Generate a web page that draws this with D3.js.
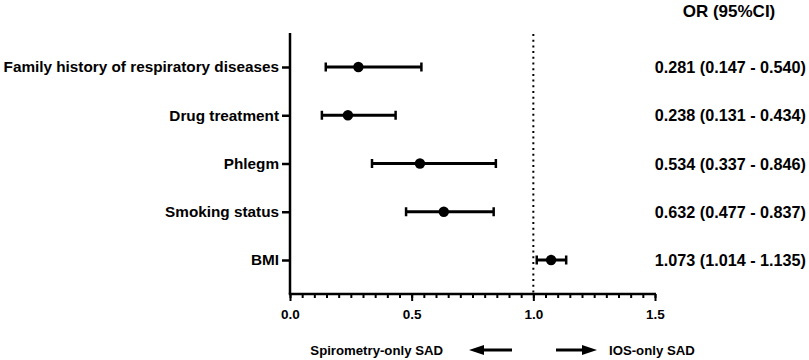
<!DOCTYPE html>
<html>
<head>
<meta charset="utf-8">
<script src="https://cdn.jsdelivr.net/npm/d3@7"></script>
<style>
  body { margin: 0; background: #fff; }
  text { font-family: "Liberation Sans", Arial, sans-serif; font-weight: bold; fill: #000; }
</style>
</head>
<body>
<svg id="chart" width="809" height="360"></svg>
<script>
// data
const factors = ['Family history of respiratory diseases', 'Drug treatment', 'Phlegm', 'Smoking status', 'BMI']
const orValues = [0.281, 0.238, 0.534, 0.632, 1.073]
const ciLow = [0.147, 0.131, 0.337, 0.477, 1.014]
const ciHigh = [0.540, 0.434, 0.846, 0.837, 1.135]
const xTicks = [0, 0.5, 1.0, 1.5]

const width = 809
const height = 360
const margin = { top: 33, bottom: 66, left: 290, right: 154 }
const innerWidth = width - margin.left - margin.right
const innerHeight = height - margin.top - margin.bottom

const svg = d3.select('#chart')

const g = svg.append('g')
  .attr('transform', `translate(${margin.left},${margin.top})`)

const xScale = d3.scaleLinear()
  .domain([0, 1.5])
  .range([0, innerWidth])

const yScale = d3.scalePoint()
  .domain(factors)
  .range([34, 227])

// reference line at OR = 1
g.append('line')
  .attr('x1', xScale(1)).attr('x2', xScale(1))
  .attr('y1', 1).attr('y2', innerHeight)
  .attr('stroke', '#000')
  .attr('stroke-width', 2)
  .attr('stroke-dasharray', '2,3.7')

// x axis: minor ticks then major ticks
const xAxisMinor = d3.axisBottom(xScale)
  .tickValues(d3.range(0, 1.5001, 0.05))
  .tickSize(4)
  .tickFormat('')
const xAxisG = g.append('g')
  .attr('transform', `translate(0,${innerHeight})`)
  .call(xAxisMinor)
const xAxisMajor = d3.axisBottom(xScale)
  .tickValues(xTicks)
  .tickSize(7)
  .tickPadding(8)
  .tickFormat(d3.format('.1f'))
const xAxisMajorG = g.append('g')
  .attr('transform', `translate(0,${innerHeight})`)
  .call(xAxisMajor)
xAxisG.selectAll('line').attr('stroke-width', 2)
xAxisG.select('.domain').attr('stroke-width', 2.5)
  .attr('d', `M-1.25,0H${innerWidth + 1}`)
xAxisMajorG.select('.domain').remove()
xAxisMajorG.selectAll('line').attr('stroke-width', 2)
xAxisMajorG.selectAll('text').style('font-size', '13.5px')

// y axis
const yAxis = d3.axisLeft(yScale)
  .tickSize(8)
  .tickPadding(3)
const yAxisG = g.append('g').call(yAxis)
yAxisG.select('.domain').attr('stroke-width', 2.5)
  .attr('d', `M0,0V${innerHeight}`)
yAxisG.selectAll('line').attr('stroke-width', 2.5)
yAxisG.selectAll('text').style('font-size', '15.3px')

// error bars
const rows = factors.map((f, i) => ({ f, or: orValues[i], lo: ciLow[i], hi: ciHigh[i] }))
const capH = 4.5

const barG = g.append('g')
barG.selectAll('.ci')
  .data(rows)
  .enter().append('line')
  .attr('x1', d => xScale(d.lo))
  .attr('x2', d => xScale(d.hi))
  .attr('y1', d => yScale(d.f))
  .attr('y2', d => yScale(d.f))
  .attr('stroke', '#000')
  .attr('stroke-width', 3)

barG.selectAll('.capL')
  .data(rows)
  .enter().append('line')
  .attr('x1', d => xScale(d.lo)).attr('x2', d => xScale(d.lo))
  .attr('y1', d => yScale(d.f) - capH).attr('y2', d => yScale(d.f) + capH)
  .attr('stroke', '#000').attr('stroke-width', 2.5)

barG.selectAll('.capR')
  .data(rows)
  .enter().append('line')
  .attr('x1', d => xScale(d.hi)).attr('x2', d => xScale(d.hi))
  .attr('y1', d => yScale(d.f) - capH).attr('y2', d => yScale(d.f) + capH)
  .attr('stroke', '#000').attr('stroke-width', 2.5)

barG.selectAll('circle')
  .data(rows)
  .enter().append('circle')
  .attr('cx', d => xScale(d.or))
  .attr('cy', d => yScale(d.f))
  .attr('r', 5.2)
  .attr('fill', '#000')

// OR (95%CI) column
const fmt = d3.format('.3f')
svg.append('text')
  .attr('x', 729)
  .attr('y', 17)
  .attr('text-anchor', 'middle')
  .style('font-size', '17px')
  .text('OR (95%CI)')

svg.append('g').selectAll('text')
  .data(rows)
  .enter().append('text')
  .attr('x', 806)
  .attr('y', d => margin.top + yScale(d.f) + 6)
  .attr('text-anchor', 'end')
  .style('font-size', '16.2px')
  .text(d => `${fmt(d.or)} (${fmt(d.lo)} - ${fmt(d.hi)})`)

// direction legend
const legY = 350
svg.append('text')
  .attr('x', 443).attr('y', legY + 5)
  .attr('text-anchor', 'end')
  .style('font-size', '13.2px')
  .text('Spirometry-only SAD')
svg.append('text')
  .attr('x', 609).attr('y', legY + 5)
  .style('font-size', '13.2px')
  .text('IOS-only SAD')

svg.append('line')
  .attr('x1', 482).attr('x2', 512)
  .attr('y1', legY).attr('y2', legY)
  .attr('stroke', '#000').attr('stroke-width', 3)
svg.append('path')
  .attr('d', `M469,${legY}L484,${legY - 5}L484,${legY + 5}Z`)
  .attr('fill', '#000')
svg.append('line')
  .attr('x1', 556).attr('x2', 585)
  .attr('y1', legY).attr('y2', legY)
  .attr('stroke', '#000').attr('stroke-width', 3)
svg.append('path')
  .attr('d', `M597,${legY}L582,${legY - 5}L582,${legY + 5}Z`)
  .attr('fill', '#000')
</script>
</body>
</html>
